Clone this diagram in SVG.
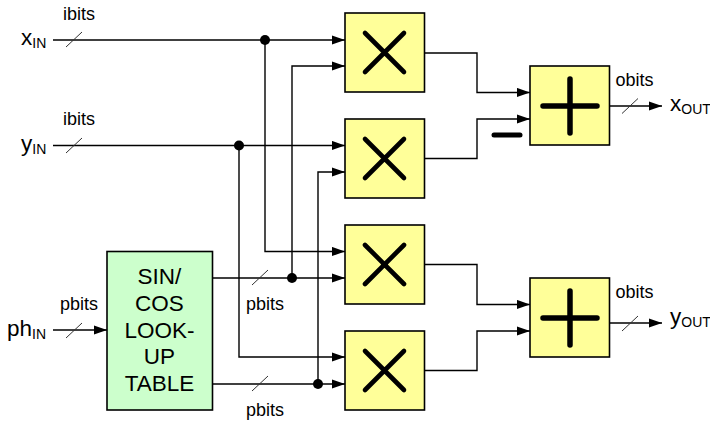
<svg xmlns="http://www.w3.org/2000/svg" width="710" height="422" viewBox="0 0 710 422">
<style>
text{font-family:"Liberation Sans",Arial,sans-serif;fill:#000}
.s{font-size:18px}.sub{font-size:14px}.b{font-size:22.500px}.c{text-anchor:middle}
.box{fill:#ffff99;stroke:#000;stroke-width:1.6}
.lut{fill:#ccffcc;stroke:#000;stroke-width:1.6}
.w{fill:none;stroke:#000;stroke-width:1.4}
.sl{fill:none;stroke:#333;stroke-width:1}
.g{fill:none;stroke:#000;stroke-linecap:round}
</style>
<defs>
<marker id="a" markerUnits="userSpaceOnUse" markerWidth="14" markerHeight="10" refX="13" refY="5" orient="auto"><path d="M0,0.400L13,5L0,9.600z" fill="#000"/></marker>
<g id="mul"><rect class="box" x="345" y="13" width="79.500" height="79"/><path class="g" stroke-width="4.600" d="M365,33L404,72M404,33L365,72"/></g>
<g id="add"><rect class="box" x="530" y="66" width="79.500" height="79"/><path class="g" stroke-width="5.500" d="M570,79V133M543,106H597"/></g>
</defs>
<g id="connectors">
<path class="w" marker-end="url(#a)" d="M53,40H345"/>
<path class="w" marker-end="url(#a)" d="M53,145.500H345"/>
<path class="w" marker-end="url(#a)" d="M265,40V251.500H345"/>
<path class="w" marker-end="url(#a)" d="M292,278V66H345"/>
<path class="w" marker-end="url(#a)" d="M239,145.500V357H345"/>
<path class="w" marker-end="url(#a)" d="M318,384V172H345"/>
<path class="w" marker-end="url(#a)" d="M53,330H107"/>
<path class="w" marker-end="url(#a)" d="M212,278H345"/>
<path class="w" marker-end="url(#a)" d="M212,384H345"/>
<path class="w" marker-end="url(#a)" d="M424.500,53H477V92.500H530"/>
<path class="w" marker-end="url(#a)" d="M424.500,158.500H477V119H530"/>
<path class="w" marker-end="url(#a)" d="M424.500,264.500H477V304.500H530"/>
<path class="w" marker-end="url(#a)" d="M424.500,370.500H477V331H530"/>
<path class="w" marker-end="url(#a)" d="M609.500,106H662"/>
<path class="w" marker-end="url(#a)" d="M609.500,323H662"/>
<path class="sl" d="M66,47L82,32M66,153L82,138M66,338L82,323M252,285L268,270M252,391L268,376M622,113.500L638,98.500M622,331L638,316"/>
<circle cx="265" cy="40" r="5"/><circle cx="239" cy="145.500" r="5"/><circle cx="292" cy="278" r="5"/><circle cx="318" cy="384" r="5"/>
</g>
<g id="mult1"><use href="#mul"/></g>
<g id="mult2"><use href="#mul" y="106"/></g>
<g id="mult3"><use href="#mul" y="212"/></g>
<g id="mult4"><use href="#mul" y="318"/></g>
<g id="adder1"><use href="#add"/></g>
<g id="adder2"><use href="#add" y="212"/></g>
<path id="minus" class="g" stroke-width="5" d="M494,135H520"/>
<g id="lut"><rect class="lut" x="107" y="251.500" width="105.500" height="158.500"/>
<text class="b c" x="159.500" y="284">SIN/</text><text class="b c" x="159.500" y="311">COS</text><text class="b c" x="159.500" y="338">LOOK-</text><text class="b c" x="159.500" y="364">UP</text><text class="b c" x="159.500" y="391">TABLE</text></g>
<g id="labels">
<text class="b" x="21" y="44.500">x<tspan class="sub" dy="3">IN</tspan></text>
<text class="b" x="21" y="150.500">y<tspan class="sub" dy="3">IN</tspan></text>
<text class="b" x="7" y="335.500">ph<tspan class="sub" dy="3">IN</tspan></text>
<text class="s" x="63" y="20">ibits</text>
<text class="s" x="63" y="125">ibits</text>
<text class="s" x="60" y="310">pbits</text>
<text class="s" x="246" y="310">pbits</text>
<text class="s" x="246" y="416">pbits</text>
<text class="s" x="615.500" y="86">obits</text>
<text class="s" x="615.500" y="298">obits</text>
<text class="b" x="670" y="110.500">x<tspan class="sub" dy="3">OUT</tspan></text>
<text class="b" x="670" y="324">y<tspan class="sub" dy="3">OUT</tspan></text>
</g>
</svg>
